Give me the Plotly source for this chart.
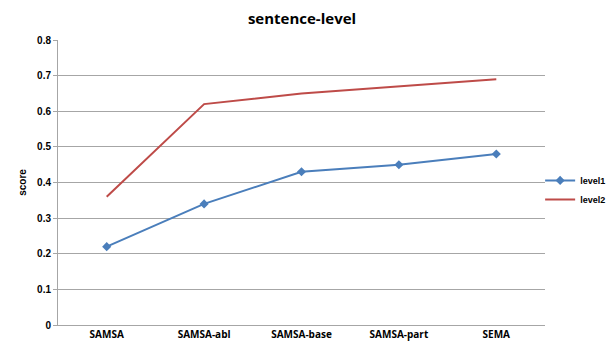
import plotly.graph_objects as go

categories = ["SAMSA", "SAMSA-abl", "SAMSA-base", "SAMSA-part", "SEMA"]
level1 = [0.22, 0.34, 0.43, 0.45, 0.48]
level2 = [0.36, 0.62, 0.65, 0.67, 0.69]
y_ticks = [0, 0.1, 0.2, 0.3, 0.4, 0.5, 0.6, 0.7, 0.8]
y_tick_labels = ["0", "0.1", "0.2", "0.3", "0.4", "0.5", "0.6", "0.7", "0.8"]

fig = go.Figure()
fig.add_trace(go.Scatter(x=categories, y=level1, name="<b>level1</b>", mode="lines+markers",
                         line=dict(color="#4A7EBB", width=2),
                         marker=dict(symbol="diamond", size=7, color="#4A7EBB")))
fig.add_trace(go.Scatter(x=categories, y=level2, name="<b>level2</b>", mode="lines",
                         line=dict(color="#BE4B48", width=2)))

fig.update_layout(
    width=600, height=333,
    margin=dict(l=50, r=63, t=32, b=16, autoexpand=False),
    paper_bgcolor="white", plot_bgcolor="white",
    font=dict(family="Liberation Sans", size=10, color="#000"),
    title=dict(text="<b>sentence-level</b>", x=(294 - 50) / 487, xanchor="center",
               xref="paper", y=1 - 11 / 333, yanchor="middle",
               font=dict(family="Open Sans", size=15, color="#000")),
    xaxis=dict(type="category", showgrid=False, showline=True, linecolor="#A6A6A6", linewidth=1,
               ticks="", tickfont=dict(family="Open Sans", size=10), range=[-0.5, 4.5],
               automargin=False),
    yaxis=dict(range=[0, 0.8], tickvals=y_ticks, ticktext=["<b>%s</b>" % t for t in y_tick_labels],
               showgrid=True, gridcolor="#A6A6A6", gridwidth=1, showline=True, automargin=False,
               linecolor="#A6A6A6", zeroline=False, ticks="outside", ticklen=4, tickcolor="#A6A6A6",
               title=dict(text="<b>score</b>", font=dict(size=10), standoff=8)),
    legend=dict(x=0.99, y=0.474, xanchor="left", yanchor="middle", itemwidth=30,
                font=dict(family="Liberation Sans", size=9), tracegroupgap=0,
                bgcolor="rgba(0,0,0,0)"),
)
fig.update_xaxes(ticktext=["<b>%s</b>" % c for c in categories], tickvals=categories)
fig.write_html("out.html")
